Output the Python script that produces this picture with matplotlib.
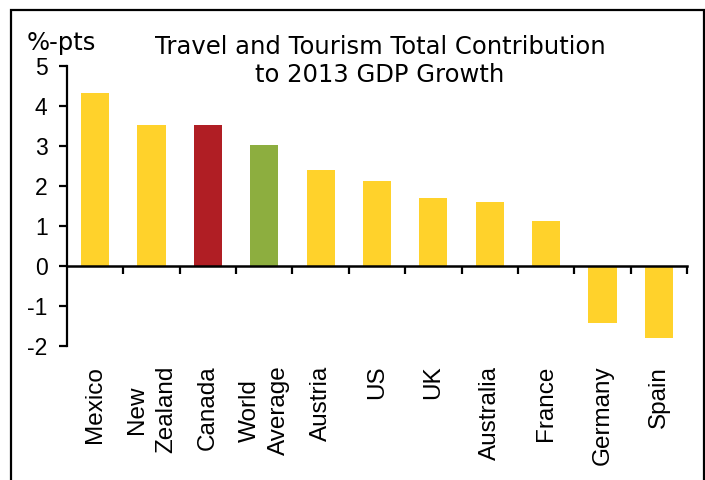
import matplotlib.pyplot as plt
from matplotlib.patches import Rectangle

countries = ["Mexico", "New\nZealand", "Canada", "World\nAverage", "Austria", "US",
             "UK", "Australia", "France", "Germany", "Spain"]
contribution = [4.33, 3.52, 3.52, 3.02, 2.4, 2.12, 1.7, 1.6, 1.12, -1.42, -1.79]
bar_colors = ["#FFD22B", "#FFD22B", "#B01E24", "#8DAE3F", "#FFD22B", "#FFD22B",
              "#FFD22B", "#FFD22B", "#FFD22B", "#FFD22B", "#FFD22B"]

plt.rcParams["font.family"] = "Liberation Sans"

fig = plt.figure(figsize=(7.05, 4.8), dpi=100)
ax = fig.add_axes([0.095, 0.279, 0.8795, 0.5835])

x = list(range(len(countries)))
ax.bar(x, contribution, width=0.5, color=bar_colors, zorder=2)

ax.set_xlim(-0.5, len(countries) - 0.5)
ax.set_ylim(-2, 5)
ax.set_yticks(range(-2, 6))
ax.set_yticklabels([str(v) for v in range(-2, 6)], fontsize=16.5)

# zero line carries the category dividers
ax.spines["top"].set_visible(False)
ax.spines["right"].set_visible(False)
ax.spines["bottom"].set_position(("data", 0))
ax.spines["left"].set_linewidth(1.6)
ax.spines["bottom"].set_linewidth(1.8)
ax.spines["bottom"].set_zorder(3)
ax.set_xticks([i + 0.5 for i in range(len(countries))])
ax.set_xticklabels([])
ax.tick_params(axis="x", direction="out", length=6, width=1.6)
ax.tick_params(axis="y", direction="out", length=6, width=1.6, pad=8)

for i, name in enumerate(countries):
    ax.text(i, -0.07, name, transform=ax.get_xaxis_transform(), rotation=90,
            ha="center", va="top", multialignment="center", fontsize=17.5,
            linespacing=1.45)

fig.text(0.539, 0.873, "Travel and Tourism Total Contribution\nto 2013 GDP Growth",
         ha="center", va="center", fontsize=17.5, linespacing=1.2,
         family="DejaVu Sans")
fig.text(0.038, 0.91, "%-pts", ha="left", va="center", fontsize=17.5,
         family="DejaVu Sans")

fig.patches.append(Rectangle((0.0156, -0.05), 0.983, 1.029, transform=fig.transFigure,
                             fill=False, edgecolor="black", linewidth=1.6))

fig.savefig("out.png", dpi=100)
